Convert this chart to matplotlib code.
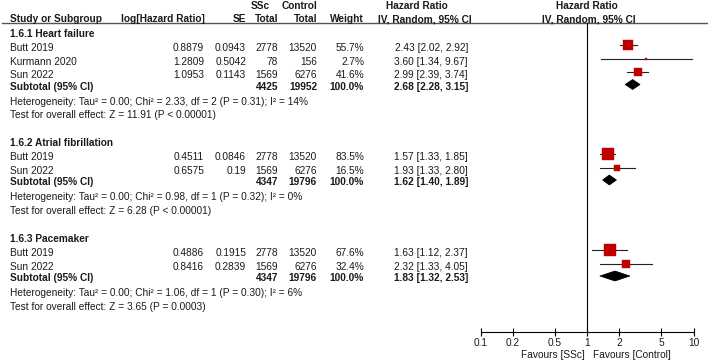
import numpy as np
import matplotlib
matplotlib.use('Agg')
import matplotlib.pyplot as plt
from matplotlib.patches import Polygon
from matplotlib.ticker import FixedLocator, NullLocator

plt.rcParams['font.family'] = ['Liberation Sans', 'DejaVu Sans']

# ---------------- data ----------------
section_titles = ["1.6.1 Heart failure", "1.6.2 Atrial fibrillation", "1.6.3 Pacemaker"]
study_names = [["Butt 2019", "Kurmann 2020", "Sun 2022"],
               ["Butt 2019", "Sun 2022"],
               ["Butt 2019", "Sun 2022"]]
log_hr = [[0.8879, 1.2809, 1.0953], [0.4511, 0.6575], [0.4886, 0.8416]]
se = [[0.0943, 0.5042, 0.1143], [0.0846, 0.19], [0.1915, 0.2839]]
ssc_total = [[2778, 78, 1569], [2778, 1569], [2778, 1569]]
ctrl_total = [[13520, 156, 6276], [13520, 6276], [13520, 6276]]
weight = [[55.7, 2.7, 41.6], [83.5, 16.5], [67.6, 32.4]]
hr = [[2.43, 3.60, 2.99], [1.57, 1.93], [1.63, 2.32]]
hr_lo = [[2.02, 1.34, 2.39], [1.33, 1.33], [1.12, 1.33]]
hr_hi = [[2.92, 9.67, 3.74], [1.85, 2.80], [2.37, 4.05]]
sub_ssc = [4425, 4347, 4347]
sub_ctrl = [19952, 19796, 19796]
sub_hr = [2.68, 1.62, 1.83]
sub_lo = [2.28, 1.40, 1.32]
sub_hi = [3.15, 1.89, 2.53]
heterogeneity = ["Heterogeneity: Tau² = 0.00; Chi² = 2.33, df = 2 (P = 0.31); I² = 14%",
                 "Heterogeneity: Tau² = 0.00; Chi² = 0.98, df = 1 (P = 0.32); I² = 0%",
                 "Heterogeneity: Tau² = 0.00; Chi² = 1.06, df = 1 (P = 0.30); I² = 6%"]
overall = ["Test for overall effect: Z = 11.91 (P < 0.00001)",
           "Test for overall effect: Z = 6.28 (P < 0.00001)",
           "Test for overall effect: Z = 3.65 (P = 0.0003)"]
x_ticks = [0.1, 0.2, 0.5, 1, 2, 5, 10]
x_tick_labels = ["0.1", "0.2", "0.5", "1", "2", "5", "10"]

# ---------------- layout ----------------
W, H = 708, 362
FS = 7.3
RED = '#C00000'
TXT = '#1a1a1a'
title_y = [33, 142, 238]

fig = plt.figure(figsize=(W / 100, H / 100), dpi=100)
ax0 = fig.add_axes([0, 0, 1, 1])
ax0.set_xlim(0, W)
ax0.set_ylim(H, 0)
ax0.axis('off')

axf = fig.add_axes([480.5 / W, 0, 213 / W, 1])
axf.set_xscale('log')
axf.set_xlim(0.1, 10)
axf.set_ylim(H, 0)
axf.patch.set_visible(False)
for s in ['left', 'right', 'top']:
    axf.spines[s].set_visible(False)
axf.spines['bottom'].set_position(('data', 332))
axf.spines['bottom'].set_linewidth(0.8)
axf.yaxis.set_visible(False)
axf.xaxis.set_major_locator(FixedLocator(x_ticks))
axf.xaxis.set_minor_locator(NullLocator())
axf.set_xticklabels(x_tick_labels)
axf.tick_params(axis='x', direction='inout', length=6, width=0.8, labelsize=FS, pad=1.5,
                labelcolor=TXT)


def txt(x, y, s, ha='left', bold=False):
    ax0.text(x, y + 3.7, s, ha=ha, va='baseline', fontsize=FS,
             fontweight='bold' if bold else 'normal', color=TXT)


# headers
txt(260, 5, "SSc", ha='center', bold=True)
txt(317, 5, "Control", ha='right', bold=True)
txt(417, 5, "Hazard Ratio", ha='center', bold=True)
txt(587, 5, "Hazard Ratio", ha='center', bold=True)
txt(10, 18.5, "Study or Subgroup", bold=True)
txt(205, 18.5, "log[Hazard Ratio]", ha='right', bold=True)
txt(246, 18.5, "SE", ha='right', bold=True)
txt(278, 18.5, "Total", ha='right', bold=True)
txt(317, 18.5, "Total", ha='right', bold=True)
txt(364, 18.5, "Weight", ha='right', bold=True)
txt(425, 18.5, "IV, Random, 95% CI", ha='center', bold=True)
txt(589, 18.5, "IV, Random, 95% CI", ha='center', bold=True)
ax0.plot([2, W], [22.5, 22.5], color='#555555', lw=1.0)

# null line
axf.plot([1, 1], [22.5, 332], color='black', lw=0.8, clip_on=False)

for i, title in enumerate(section_titles):
    y = title_y[i]
    txt(10, y, title, bold=True)
    y += 14.5
    for j, name in enumerate(study_names[i]):
        if j > 0:
            y += 13.5
        txt(10, y, name)
        txt(204, y, f"{log_hr[i][j]:g}", ha='right')
        txt(246, y, f"{se[i][j]:g}", ha='right')
        txt(278, y, f"{ssc_total[i][j]}", ha='right')
        txt(317, y, f"{ctrl_total[i][j]}", ha='right')
        txt(364, y, f"{weight[i][j]:.1f}%", ha='right')
        txt(468, y, f"{hr[i][j]:.2f} [{hr_lo[i][j]:.2f}, {hr_hi[i][j]:.2f}]", ha='right')
        ym = y - 2.3
        axf.plot([hr_lo[i][j], hr_hi[i][j]], [ym, ym], color='#222222', lw=0.8)
        axf.plot([hr[i][j]], [ym], marker='s', ms=1.0 * np.sqrt(weight[i][j]),
                 color=RED, mec=RED, mew=0.3, linestyle='none')
    y += 11.5
    txt(10, y, "Subtotal (95% CI)", bold=True)
    txt(278, y, f"{sub_ssc[i]}", ha='right', bold=True)
    txt(317, y, f"{sub_ctrl[i]}", ha='right', bold=True)
    txt(364, y, "100.0%", ha='right', bold=True)
    txt(468, y, f"{sub_hr[i]:.2f} [{sub_lo[i]:.2f}, {sub_hi[i]:.2f}]", ha='right', bold=True)
    yd = y - 1.5
    axf.add_patch(Polygon([(sub_lo[i], yd), (sub_hr[i], yd - 5), (sub_hi[i], yd), (sub_hr[i], yd + 5)],
                          closed=True, facecolor='black', edgecolor='black', lw=0.5))
    y += 15
    txt(10, y, heterogeneity[i])
    y += 13.5
    txt(10, y, overall[i])

txt(585, 354, "Favours [SSc]", ha='right')
txt(593, 354, "Favours [Control]", ha='left')

fig.savefig('out.png', dpi=100)
